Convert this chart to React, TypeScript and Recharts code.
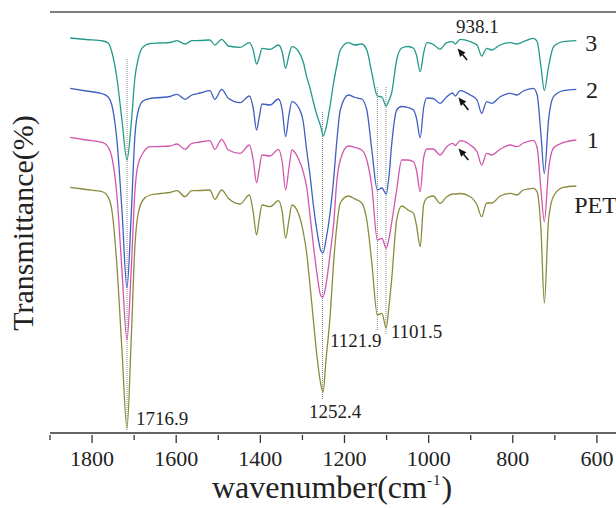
import { LineChart, Line, XAxis, YAxis, ReferenceLine, ReferenceDot } from 'recharts';

// FTIR spectra, stacked with an offset. Y is transmittance in arbitrary units.
const wavenumbers = [
    1852, 1814, 1774, 1762, 1753, 1741, 1729, 1717, 1707, 1698,
    1691, 1679, 1662, 1638, 1615, 1598, 1579, 1563, 1543, 1520,
    1508, 1492, 1476, 1448, 1426, 1417, 1409, 1403, 1396, 1377,
    1357, 1348, 1340, 1332, 1325, 1310, 1298, 1290, 1282, 1274,
    1265, 1256, 1251, 1244, 1234, 1226, 1218, 1210, 1191, 1175,
    1159, 1147, 1135, 1122, 1111, 1101, 1094, 1088, 1076, 1064,
    1049, 1036, 1029, 1020, 1012, 1004, 989, 973, 957, 943,
    937, 925, 901, 885, 874, 862, 850, 830, 806, 790,
    775, 751, 742, 733, 725, 715, 703, 680, 649,
];

const sample3 = [
    395, 393.5, 392, 390, 381, 355, 313, 273, 309, 356,
    373, 386, 389.5, 390, 390.5, 392.3, 389, 392.3, 392.5, 393,
    388, 393.7, 387, 385.7, 390.3, 383, 369, 375, 384.7, 383.7,
    388, 381, 364.7, 378, 386.3, 382, 371, 356.3, 345, 331,
    317, 306, 297, 305, 328, 350, 368, 383, 390.3, 388,
    389, 383, 360, 337, 336, 327, 333, 340, 373, 385,
    386.5, 384.7, 378, 361.3, 379.7, 390.3, 388.7, 383.7, 390.3, 391.3,
    389, 393.7, 391.3, 388, 377, 384.7, 383, 388, 390.3, 389,
    391.3, 394.7, 391.3, 366.3, 342.3, 366.3, 386.3, 391.3, 392.3,
];

const sample2 = [
    344.7, 342, 339, 336, 328, 293, 223, 145, 218, 298,
    321, 332, 334.5, 335.5, 336.5, 338.7, 333.7, 338, 340, 342.3,
    333.7, 343.7, 334.7, 330.3, 337, 325, 303, 315, 329, 328,
    334, 323, 296.3, 318, 331.3, 326, 311, 283, 258, 228,
    201, 182, 180, 193, 221, 253, 293, 323, 338, 335.5,
    334, 323, 283, 243, 245, 239, 258, 288, 323, 326.5,
    325.5, 323, 315, 295.3, 325, 335, 334.5, 329.7, 336.3, 340,
    337, 342.3, 338, 333, 319.7, 331.3, 329.7, 336.3, 339.7, 338,
    342, 344.7, 338, 298, 259.7, 313, 336.3, 342.3, 343.7,
];

const sample1 = [
    295.7, 293, 290.3, 286, 276, 238, 163, 93, 163, 243,
    268, 280, 286.3, 286.5, 287, 289, 283.7, 289.7, 291, 292.3,
    283.7, 293.7, 283, 279.7, 288, 273, 250.3, 263, 278, 277,
    283.7, 271, 243, 265, 283, 274.7, 261, 246, 218, 188,
    158, 137, 136, 148, 180, 208, 253, 273, 287, 285.5,
    283, 273, 246, 193, 194.7, 184.7, 195, 210, 243, 273,
    273, 271.3, 263, 241.3, 275, 284, 284, 278, 286.3, 289.7,
    287.5, 292.3, 288, 281.3, 268, 279.7, 278, 283.7, 288, 286.3,
    290, 292.7, 285, 243, 211.3, 263, 285, 290.3, 293,
];

const pet = [
    245.7, 243.5, 241, 236, 223, 168, 83, 5, 93, 188,
    218, 233, 238, 239.5, 240.5, 242.3, 236.3, 242.3, 242.5, 243,
    233.7, 243, 234.7, 229, 238, 221, 198, 213, 228, 226.3,
    232.3, 221, 194.7, 213, 228, 220, 201, 180, 148, 113,
    75, 48, 41, 73, 118, 170, 208, 230, 237, 234,
    230, 213, 170, 118, 119.7, 105, 128, 153, 213, 227,
    223, 219.7, 208, 186.3, 228, 235, 237, 229.7, 236.3, 239,
    239, 239.5, 236.3, 228, 216.3, 230, 230, 237, 239.7, 238,
    243, 244.7, 241, 203, 130, 213, 237, 245.7, 247,
];

const xTicks = [1900, 1800, 1700, 1600, 1500, 1400, 1300, 1200, 1100, 1000, 900, 800, 700, 600, 500];

// dotted guide lines: wavenumber, top and bottom (y units)
const guideWn = [1716.9, 1252.4, 1121.9, 1101.5];
const guideTop = [374, 321, 346, 346];
const guideBottom = [2, 33, 103, 98];

// peak labels: text, anchor wavenumber, baseline (y units), anchor
const peakText = ['1716.9', '1252.4', '1121.9', '1101.5', '938.1'];
const peakWn = [1695.5, 1222.4, 1234.3, 1090, 934.7];
const peakY = [8, 15, 86, 95, 400];
const peakAnchor = ['start', 'middle', 'start', 'start', 'start'];

// curve names on the right
const curveNames = ['3', '2', '1', 'PET'];
const curveNameWn = [628, 626, 624, 654];
const curveNameY = [382, 335, 285, 220];

// arrows pointing at 938.1 notch: tail and head
const arrowTailWn = [908.6, 905.5, 905.5];
const arrowTailY = [373, 323, 273];
const arrowHeadWn = [931, 929, 929];
const arrowHeadY = [384.5, 335.5, 284.5];

const FONT = '"Liberation Serif", "Times New Roman", serif';

const data = wavenumbers.map((wn, i) => ({
    wn,
    pet: pet[i],
    s1: sample1[i],
    s2: sample2[i],
    s3: sample3[i],
}));

const WaveTick = (props: any) => {
    const { x, y, payload } = props;
    const major = payload.value % 200 === 0;
    return (
        <g>
            <line x1={x} y1={y} x2={x} y2={y + (major ? 8 : 5)} stroke="#333" strokeWidth={1.3} />
            {major && (
                <text x={x} y={y + 31} textAnchor="middle" fontFamily={FONT} fontSize={22} fill="#222">
                    {payload.value}
                </text>
            )}
        </g>
    );
};

const Arrow = (p: any) => {
    const { x1, y1, x2, y2 } = p;
    const ang = Math.atan2(y2 - y1, x2 - x1);
    const len = 8;
    const w = 3.5;
    const bx = x2 - len * Math.cos(ang);
    const by = y2 - len * Math.sin(ang);
    const px = -Math.sin(ang) * w;
    const py = Math.cos(ang) * w;
    return (
        <g>
            <line x1={x1} y1={y1} x2={bx} y2={by} stroke="#111" strokeWidth={1.6} />
            <polygon points={`${x2},${y2} ${bx + px},${by + py} ${bx - px},${by - py}`} fill="#111" />
        </g>
    );
};

export default function App() {
    return (
        <div style={{ position: 'absolute', left: 0, top: 0, width: 616, height: 508, overflow: 'hidden', background: '#fff' }}>
            <LineChart width={650} height={508} data={data} margin={{ top: 12, right: 11, bottom: 0, left: 50 }}>
                <XAxis
                    dataKey="wn"
                    type="number"
                    domain={[500, 1900]}
                    reversed
                    ticks={xTicks}
                    interval={0}
                    tick={<WaveTick />}
                    tickLine={false}
                    tickSize={0}
                    height={75}
                    axisLine={{ stroke: '#333', strokeWidth: 1.5 }}
                    allowDataOverflow
                />
                <YAxis
                    type="number"
                    domain={[0, 421]}
                    width={0}
                    tick={false}
                    tickLine={false}
                    axisLine={{ stroke: '#555', strokeWidth: 1.5 }}
                    allowDataOverflow
                />
                <ReferenceLine y={421} stroke="#555" strokeWidth={1.5} />

                {guideWn.map((wn, i) => (
                    <ReferenceLine
                        key={`g-${i}`}
                        segment={[{ x: wn, y: guideTop[i] }, { x: wn, y: guideBottom[i] }]}
                        stroke="#8a8a8a"
                        strokeWidth={1}
                        strokeDasharray="1 1"
                    />
                ))}

                <Line dataKey="pet" type="monotone" stroke="#8a8b3c" strokeWidth={1.3} dot={false} isAnimationActive={false} />
                <Line dataKey="s1" type="monotone" stroke="#d256ad" strokeWidth={1.3} dot={false} isAnimationActive={false} />
                <Line dataKey="s2" type="monotone" stroke="#3f5fc0" strokeWidth={1.3} dot={false} isAnimationActive={false} />
                <Line dataKey="s3" type="monotone" stroke="#23998a" strokeWidth={1.3} dot={false} isAnimationActive={false} />

                {arrowTailWn.map((wn, i) => (
                    <ReferenceLine
                        key={`a-${i}`}
                        segment={[{ x: wn, y: arrowTailY[i] }, { x: arrowHeadWn[i], y: arrowHeadY[i] }]}
                        shape={Arrow}
                    />
                ))}

                {peakText.map((t, i) => (
                    <ReferenceDot
                        key={`p-${i}`}
                        x={peakWn[i]}
                        y={peakY[i]}
                        r={0}
                        shape={(p: any) => (
                            <text x={p.cx} y={p.cy} textAnchor={peakAnchor[i]} fontFamily={FONT} fontSize={19} fill="#222">
                                {t}
                            </text>
                        )}
                    />
                ))}

                {curveNames.map((t, i) => (
                    <ReferenceDot
                        key={`n-${i}`}
                        x={curveNameWn[i]}
                        y={curveNameY[i]}
                        r={0}
                        shape={(p: any) => (
                            <text x={p.cx} y={p.cy} fontFamily={FONT} fontSize={24} fill="#222">
                                {t}
                            </text>
                        )}
                    />
                ))}
            </LineChart>

            <div
                style={{
                    position: 'absolute',
                    left: 23,
                    top: 223,
                    transform: 'translate(-50%, -50%) rotate(-90deg)',
                    whiteSpace: 'nowrap',
                    fontFamily: FONT,
                    fontSize: 30,
                    lineHeight: 1,
                    color: '#222',
                }}
            >
                Transmittance(%)
            </div>
            <div
                style={{
                    position: 'absolute',
                    left: 332,
                    top: 475,
                    transform: 'translateX(-50%)',
                    whiteSpace: 'nowrap',
                    fontFamily: FONT,
                    fontSize: 32,
                    lineHeight: 0.8,
                    color: '#222',
                }}
            >
                wavenumber(cm
                <span style={{ fontSize: 15, position: 'relative', top: -13, letterSpacing: 1 }}>-1</span>)
            </div>
        </div>
    );
}
